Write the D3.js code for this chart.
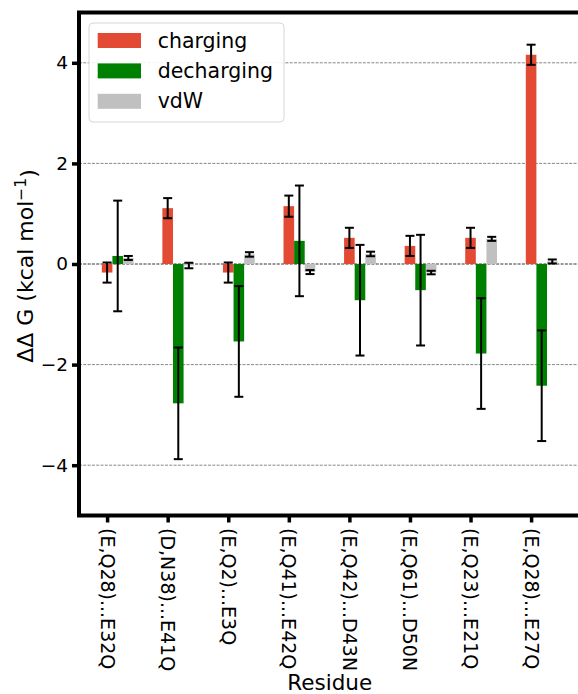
<!DOCTYPE html>
<meta charset="utf-8">
<script src="https://d3js.org/d3.v7.min.js"></script>
<style>
  body { margin: 0; background: #fff; }
  text { font-family: "DejaVu Sans", sans-serif; }
</style>
<div id="my_dataviz"></div>
<script>

    // residues (x categories)
    var residues = ["(E,Q28)...E32Q", "(D,N38)...E41Q", "(E,Q2)...E3Q", "(E,Q41)...E42Q",
        "(E,Q42)...D43N", "(E,Q61)...D50N", "(E,Q23)...E21Q", "(E,Q28)...E27Q"];

    // series values (kcal/mol)
    var charging = [-0.17, 1.11, -0.17, 1.15, 0.52, 0.36, 0.52, 4.16];
    var chargingErr = [0.20, 0.20, 0.20, 0.21, 0.20, 0.20, 0.20, 0.20];
    var decharging = [0.16, -2.77, -1.54, 0.46, -0.72, -0.52, -1.78, -2.42];
    var dechargingErr = [1.10, 1.11, 1.10, 1.10, 1.10, 1.10, 1.10, 1.10];
    var vdw = [0.12, -0.03, 0.19, -0.16, 0.20, -0.17, 0.50, 0.05];
    var vdwErr = [0.04, 0.055, 0.045, 0.04, 0.045, 0.035, 0.04, 0.04];

    var yTicks = [-4, -2, 0, 2, 4];

    var series = [
        { name: "charging", values: charging, errs: chargingErr, color: "#E24A33" },
        { name: "decharging", values: decharging, errs: dechargingErr, color: "#008000" },
        { name: "vdW", values: vdw, errs: vdwErr, color: "#C0C0C0" }
    ];

    var barW = 0.175;

    // plot area in pixels
    var pLeft = 79, pRight = 580.4, pTop = 12.5, pBottom = 515.5;

    var svg = d3.select("#my_dataviz")
        .append("svg")
        .attr("width", 578)
        .attr("height", 694);

    var x = d3.scaleLinear()
        .domain([-0.464, 7.814])
        .range([pLeft, pRight]);

    var y = d3.scaleLinear()
        .domain([-5, 5])
        .range([pBottom, pTop]);

    // grid lines
    svg.append("g")
        .selectAll("line")
        .data(yTicks)
        .enter()
        .append("line")
        .attr("x1", pLeft)
        .attr("x2", pRight)
        .attr("y1", function (d) { return y(d); })
        .attr("y2", function (d) { return y(d); })
        .attr("stroke", function (d) { return d === 0 ? "#333" : "#888"; })
        .attr("stroke-width", 1)
        .attr("stroke-dasharray", "3,1.3");

    // bars
    series.forEach(function (s, k) {
        var g = svg.append("g");
        g.selectAll("rect")
            .data(s.values)
            .enter()
            .append("rect")
            .attr("x", function (d, i) { return x(i + k * barW - barW / 2); })
            .attr("width", function (d, i) { return x(i + k * barW + barW / 2) - x(i + k * barW - barW / 2); })
            .attr("y", function (d) { return y(Math.max(0, d)); })
            .attr("height", function (d) { return Math.abs(y(d) - y(0)); })
            .style("fill", s.color);
    });

    // error bars
    series.forEach(function (s, k) {
        var g = svg.append("g")
            .attr("stroke", "#000")
            .attr("stroke-width", 2);
        var cap = 4.5;
        s.values.forEach(function (d, i) {
            var cx = x(i + k * barW);
            var lo = y(d - s.errs[i]), hi = y(d + s.errs[i]);
            g.append("line").attr("x1", cx).attr("x2", cx).attr("y1", lo).attr("y2", hi);
            g.append("line").attr("x1", cx - cap).attr("x2", cx + cap).attr("y1", lo).attr("y2", lo);
            g.append("line").attr("x1", cx - cap).attr("x2", cx + cap).attr("y1", hi).attr("y2", hi);
        });
    });

    // Y axis
    var yAxis = svg.append("g")
        .attr("transform", "translate(" + pLeft + ",0)")
        .call(d3.axisLeft(y).tickValues(yTicks).tickSize(7).tickPadding(4));
    yAxis.select(".domain").remove();
    yAxis.selectAll(".tick line").attr("stroke", "#000").attr("stroke-width", 3.5);
    yAxis.selectAll(".tick text")
        .style("font-size", "18.5px")
        .style("font-family", "DejaVu Sans")
        .attr("fill", "#000");

    // X axis
    var xAxis = svg.append("g")
        .attr("transform", "translate(0," + pBottom + ")")
        .call(d3.axisBottom(x)
            .tickValues(d3.range(residues.length))
            .tickFormat(function (d) { return residues[d]; })
            .tickSize(7));
    xAxis.select(".domain").remove();
    xAxis.selectAll(".tick line").attr("stroke", "#000").attr("stroke-width", 3.5);
    xAxis.selectAll(".tick text")
        .attr("x", 0)
        .attr("y", 0)
        .attr("dy", null)
        .attr("dominant-baseline", "central")
        .attr("transform", "translate(0,12.5) rotate(90)")
        .attr("text-anchor", "start")
        .attr("fill", "#000")
        .style("font-size", "19px")
        .style("font-family", "DejaVu Sans");

    // spines
    svg.append("rect")
        .attr("x", pLeft)
        .attr("y", pTop)
        .attr("width", pRight - pLeft)
        .attr("height", pBottom - pTop)
        .attr("fill", "none")
        .attr("stroke", "#000")
        .attr("stroke-width", 4);

    // axis labels
    var yl = svg.append("text")
        .attr("transform", "translate(33,266) rotate(-90)")
        .attr("text-anchor", "middle")
        .style("font-size", "22px");
    yl.append("tspan").text("ΔΔ G (kcal mol");
    yl.append("tspan").attr("dy", "-0.45em").style("font-size", "15.5px").text("−1");
    yl.append("tspan").attr("dy", "0.45em").text(")");

    svg.append("text")
        .attr("x", (pLeft + pRight) / 2)
        .attr("y", 690)
        .attr("text-anchor", "middle")
        .style("font-size", "21.5px")
        .text("Residue");

    // legend
    var legend = svg.append("g");
    legend.append("rect")
        .attr("x", 89)
        .attr("y", 23)
        .attr("width", 195)
        .attr("height", 99)
        .attr("rx", 4)
        .attr("fill", "#fff")
        .attr("fill-opacity", 0.9)
        .attr("stroke", "#d6d6d6")
        .attr("stroke-width", 1);
    series.forEach(function (s, k) {
        var cy = 40.5 + k * 30.4;
        legend.append("rect")
            .attr("x", 97.7)
            .attr("y", cy - 7.5)
            .attr("width", 43.3)
            .attr("height", 15)
            .style("fill", s.color);
        legend.append("text")
            .attr("x", 157.7)
            .attr("y", cy + 7)
            .style("font-size", "20.5px")
            .text(s.name);
    });
</script>
